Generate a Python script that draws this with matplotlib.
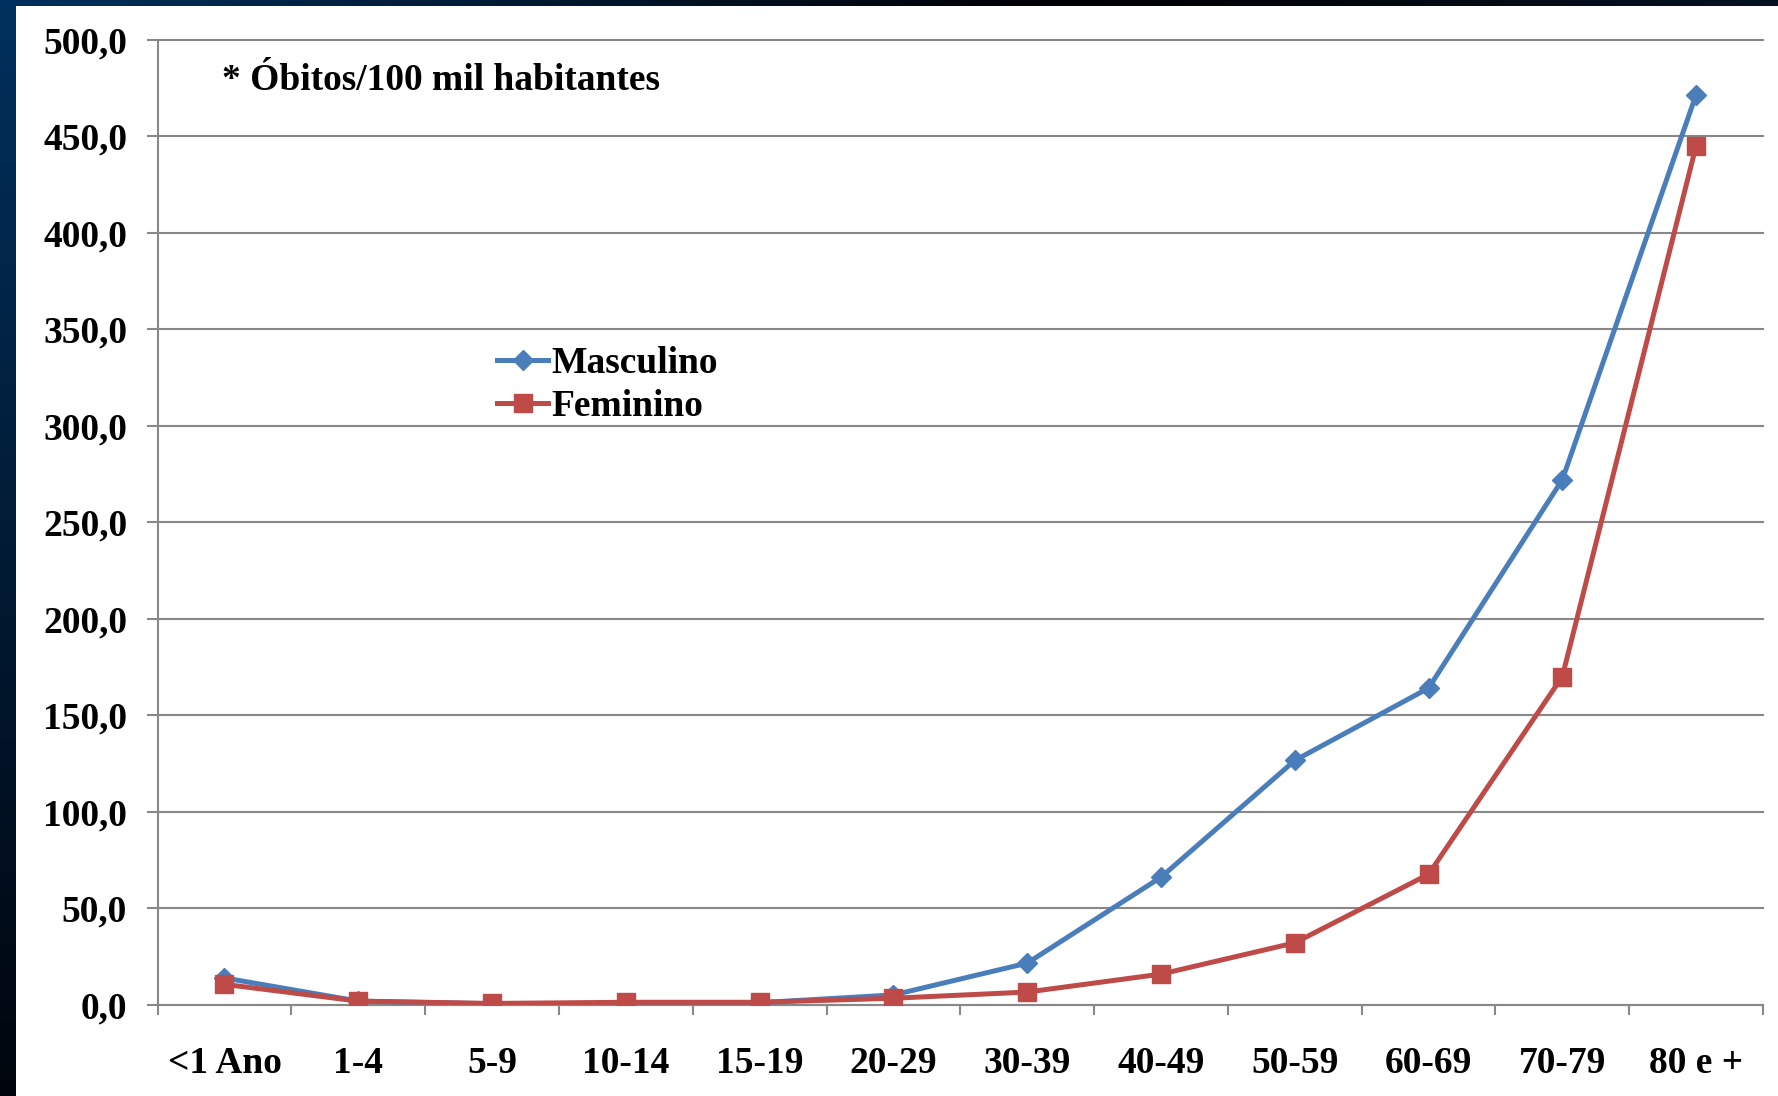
import matplotlib
matplotlib.use("Agg")
import matplotlib.pyplot as plt
import numpy as np
from matplotlib.ticker import FuncFormatter, FixedLocator, NullFormatter

categories = ["<1 Ano", "1-4", "5-9", "10-14", "15-19", "20-29", "30-39",
              "40-49", "50-59", "60-69", "70-79", "80 e +"]
masculino = [13.8, 1.8, 0.4, 0.3, 1.0, 5.0, 21.5, 66.0, 126.5, 164.0, 272.0, 471.5]
feminino = [10.5, 1.8, 0.6, 1.2, 1.2, 3.3, 6.5, 15.8, 32.0, 67.5, 170.0, 445.0]
yticks = [0, 50, 100, 150, 200, 250, 300, 350, 400, 450, 500]
series_names = ["Masculino", "Feminino"]
note = "* Óbitos/100 mil habitantes"

W, H = 1778, 1096
FONT = ["Liberation Serif", "DejaVu Serif"]
FS = 27

fig = plt.figure(figsize=(W / 100, H / 100), dpi=100, facecolor="white")

# dark decorative bands (left and top)
top_c = np.array([0.0, 0.19, 0.37])
bot_c = np.array([0.0, 0.02, 0.05])
t = np.linspace(0, 1, 256)[:, None]
left_grad = (top_c * (1 - t) + bot_c * t)[:, None, :]
axl = fig.add_axes([0, 0, 16 / W, 1], zorder=-5)
axl.imshow(left_grad, aspect="auto", extent=[0, 1, 0, 1])
axl.axis("off")

xs = np.linspace(0, 1, 256)
c_left = np.array([0.0, 0.19, 0.37])
c_mid = np.array([0.0, 0.0, 0.01])
c_right = np.array([0.02, 0.07, 0.13])
row = []
for v in xs:
    if v < 0.6:
        f = v / 0.6
        row.append(c_left * (1 - f) + c_mid * f)
    else:
        f = (v - 0.6) / 0.4
        row.append(c_mid * (1 - f) + c_right * f)
top_grad = np.array(row)[None, :, :]
axt = fig.add_axes([0, 1 - 6 / H, 1, 6 / H], zorder=-5)
axt.imshow(top_grad, aspect="auto", extent=[0, 1, 0, 1])
axt.axis("off")

# main axes
L, R, T, B = 157.6, 1763, 39.7, 1004.6
ax = fig.add_axes([L / W, 1 - B / H, (R - L) / W, (B - T) / H])
ax.set_facecolor("white")
x = np.arange(len(categories))
ax.plot(x, masculino, color="#4a7ebb", lw=3.6, marker="D", ms=10.5,
        label=series_names[0], zorder=3, solid_joinstyle="round")
ax.plot(x, feminino, color="#be4b48", lw=3.6, marker="s", ms=12.5,
        label=series_names[1], zorder=4, solid_joinstyle="round")

ax.set_xlim(-0.5, len(categories) - 0.5)
ax.set_ylim(0, 500)

grid_c = "#888888"
ax.set_yticks(yticks)
ax.yaxis.set_major_formatter(FuncFormatter(lambda v, p: f"{v:.1f}".replace(".", ",")))
ax.yaxis.grid(True, color=grid_c, lw=1.5)
ax.set_axisbelow(True)
for gl in ax.get_ygridlines():
    gl.set_clip_on(False)

ax.xaxis.set_major_locator(FixedLocator(np.arange(-0.5, len(categories), 1.0)))
ax.xaxis.set_major_formatter(NullFormatter())
ax.xaxis.set_minor_locator(FixedLocator(x))
ax.set_xticklabels(categories, minor=True)

for s in ["top", "right"]:
    ax.spines[s].set_visible(False)
for s in ["left", "bottom"]:
    ax.spines[s].set_color(grid_c)
    ax.spines[s].set_linewidth(1.5)

ax.tick_params(axis="y", which="major", direction="out", length=8, width=1.5,
               color=grid_c, pad=14)
ax.tick_params(axis="x", which="major", direction="out", length=7.5, width=1.5,
               color=grid_c)
ax.tick_params(axis="x", which="minor", length=0, pad=30)

for lab in ax.get_yticklabels() + ax.get_xticklabels(minor=True):
    lab.set_fontfamily(FONT)
    lab.set_fontweight("bold")
    lab.set_fontsize(FS)
    lab.set_color("black")

leg = ax.legend(loc="upper left", bbox_to_anchor=(497 / W, 1 - 346 / H),
                bbox_transform=fig.transFigure, frameon=False, numpoints=1,
                handlelength=1.36, handletextpad=0.1, labelspacing=0.22,
                borderpad=0, borderaxespad=0,
                prop={"family": FONT, "weight": "bold", "size": FS})

fig.text(222 / W, 1 - 80.5 / H, note, ha="left", va="center",
         fontsize=FS, fontweight="bold", family=FONT, color="black")

fig.savefig("out.png", dpi=100, facecolor="white")
